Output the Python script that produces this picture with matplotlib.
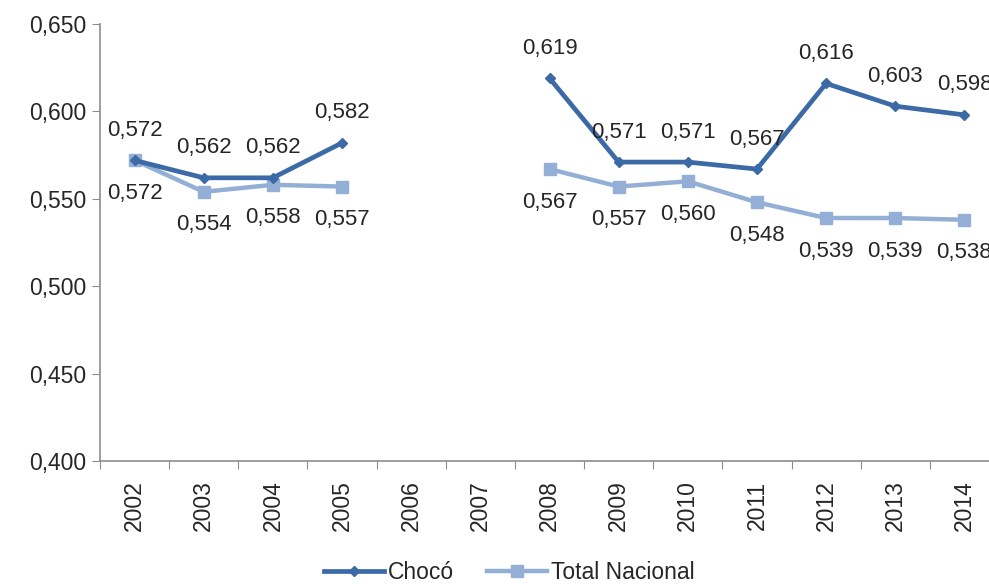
import matplotlib
matplotlib.use('Agg')
import matplotlib.pyplot as plt
import numpy as np

plt.rcParams['font.family'] = ['Liberation Sans', 'DejaVu Sans']

years = ['2002', '2003', '2004', '2005', '2006', '2007', '2008',
         '2009', '2010', '2011', '2012', '2013', '2014']
choco = [0.572, 0.562, 0.562, 0.582, None, None, 0.619,
         0.571, 0.571, 0.567, 0.616, 0.603, 0.598]
nacional = [0.572, 0.554, 0.558, 0.557, None, None, 0.567,
            0.557, 0.560, 0.548, 0.539, 0.539, 0.538]

dark = '#3C6AA6'
light = '#93AFD6'
txt = '#262626'

x = np.arange(len(years))
ch = np.array([np.nan if v is None else v for v in choco])
na = np.array([np.nan if v is None else v for v in nacional])

fig = plt.figure(figsize=(9.89, 5.84), dpi=100)
ax = fig.add_axes([100 / 989, 1 - 461 / 584, 899 / 989, 437 / 584])

ax.plot(x, na, color=light, lw=3.2, marker='s', ms=8, label='Total Nacional', zorder=2)
ax.plot(x, ch, color=dark, lw=3.4, marker='D', ms=5.5, label='Chocó', zorder=3)

for i in range(len(x)):
    if not np.isnan(ch[i]):
        ax.annotate(f'{ch[i]:.3f}'.replace('.', ','), (x[i], ch[i]), xytext=(0, 30),
                    textcoords='offset pixels', ha='center', va='center',
                    fontsize=16, color=txt)
    if not np.isnan(na[i]):
        ax.annotate(f'{na[i]:.3f}'.replace('.', ','), (x[i], na[i]), xytext=(0, -33),
                    textcoords='offset pixels', ha='center', va='center',
                    fontsize=16, color=txt)

ax.set_xlim(-0.5, len(years) - 0.5)
ax.set_ylim(0.400, 0.650)
ax.set_yticks(np.arange(0.400, 0.651, 0.05))
ax.set_yticklabels([f'{v:.3f}'.replace('.', ',') for v in np.arange(0.400, 0.651, 0.05)])

ax.set_xticks(np.arange(-0.5, len(years), 1.0))
ax.set_xticklabels([])
ax.set_xticks(x, minor=True)
ax.set_xticklabels(years, minor=True, rotation=90)
ax.tick_params(axis='x', which='minor', length=0, pad=14, labelsize=16.5, labelcolor=txt)
ax.tick_params(axis='x', which='major', length=6, color='#8c8c8c', direction='out')
ax.tick_params(axis='y', length=6, color='#8c8c8c', labelsize=16.5, labelcolor=txt, pad=4)

for s in ['top', 'right']:
    ax.spines[s].set_visible(False)
for s in ['left', 'bottom']:
    ax.spines[s].set_color('#8c8c8c')
    ax.spines[s].set_linewidth(1.2)

h, l = ax.get_legend_handles_labels()
fig.legend(h[::-1], l[::-1], loc='center', bbox_to_anchor=(0.515, 0.02), ncol=2,
           frameon=False, fontsize=16.5, handlelength=2.6, handletextpad=0.18,
           columnspacing=1.45, labelcolor=txt, borderpad=0.1)

fig.savefig('out.png', dpi=100)
